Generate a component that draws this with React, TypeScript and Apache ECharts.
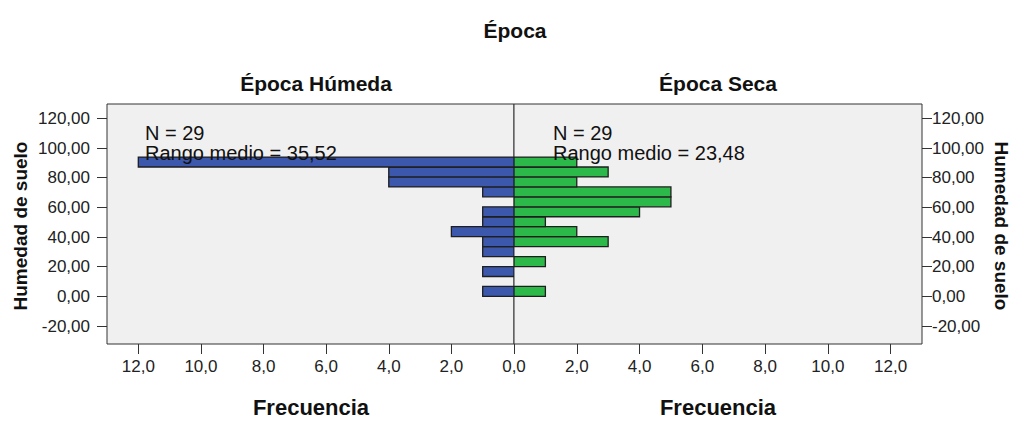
import React, { useEffect, useRef } from "react";
import * as echarts from "echarts";

// Histogram bins (soil moisture) — lower and upper bounds
const binStarts = [0, 6.71, 13.42, 20.13, 26.84, 33.55, 40.26, 46.97, 53.68, 60.39, 67.1, 73.81, 80.52, 87.23];
const binEnds = [6.71, 13.42, 20.13, 26.84, 33.55, 40.26, 46.97, 53.68, 60.39, 67.1, 73.81, 80.52, 87.23, 93.94];
// Frequencies per bin (bottom to top)
const humedaCounts = [1, 0, 1, 0, 1, 1, 2, 1, 1, 0, 1, 4, 4, 12];
const secaCounts = [1, 0, 0, 1, 0, 3, 2, 1, 4, 5, 5, 2, 3, 2];

const yTicks = [-20, 0, 20, 40, 60, 80, 100, 120];
const xTicks = [0, 2, 4, 6, 8, 10, 12];
const xTicksRight = [2, 4, 6, 8, 10, 12];

const FONT = "'Liberation Sans', Arial, sans-serif";
const BLUE = "#3c58ac";
const GREEN = "#2db84a";

function mkData(counts: number[]) {
  const out: number[][] = [];
  counts.forEach((c, i) => {
    if (c > 0) out.push([binStarts[i], binEnds[i], c]);
  });
  return out;
}

function renderer(color: string) {
  return (params: any, api: any) => {
    const lo = api.value(0);
    const hi = api.value(1);
    const c = api.value(2);
    const p1 = api.coord([0, hi]);
    const p2 = api.coord([c, lo]);
    return {
      type: "rect",
      shape: {
        x: Math.min(p1[0], p2[0]),
        y: p1[1],
        width: Math.abs(p2[0] - p1[0]),
        height: p2[1] - p1[1],
      },
      style: { fill: color, stroke: "#1e1e1e", lineWidth: 1.3 },
    };
  };
}

export default function App() {
  const ref = useRef<HTMLDivElement>(null);
  useEffect(() => {
    if (!ref.current) return;
    const chart = echarts.init(ref.current, null, { renderer: "svg" });
    const fmtX = (v: number) => v.toFixed(1).replace(".", ",");
    const fmtY = (v: number) => v.toFixed(2).replace(".", ",");
    const tickStyle = { color: "#333", width: 1 };
    const yBase = {
      type: "value" as const,
      min: -32.1,
      max: 129.7,
      splitLine: { show: false },
      axisLine: { show: false, onZero: false },
      axisTick: { show: true, length: 10, inside: false, lineStyle: tickStyle, customValues: yTicks },
      axisLabel: {
        formatter: fmtY,
        customValues: yTicks,
        fontFamily: FONT,
        fontSize: 17,
        color: "#222",
      },
    };
    const xBase = {
      type: "value" as const,
      min: 0,
      max: 13,
      splitLine: { show: false },
      axisLine: { show: false, onZero: false },
      axisTick: { show: true, length: 10, lineStyle: tickStyle, customValues: xTicks },
    };
    chart.setOption({
      animation: false,
      backgroundColor: "#ffffff",
      grid: [
        {
          left: 107, right: 499, top: 104, bottom: 77,
          show: true, backgroundColor: "#f0f0f0", borderColor: "#333", borderWidth: 1,
        },
        {
          left: 514, right: 91, top: 104, bottom: 77,
          show: true, backgroundColor: "#f0f0f0", borderColor: "#333", borderWidth: 1,
        },
      ],
      xAxis: [
        {
          ...xBase,
          gridIndex: 0,
          inverse: true,
          axisLabel: { formatter: fmtX, customValues: xTicks, fontFamily: FONT, fontSize: 17, color: "#222", margin: 14 },
        },
        {
          ...xBase,
          gridIndex: 1,
          axisLabel: { formatter: fmtX, customValues: xTicksRight, fontFamily: FONT, fontSize: 17, color: "#222", margin: 14 },
        },
      ],
      yAxis: [
        { ...yBase, gridIndex: 0, position: "left", axisLabel: { ...yBase.axisLabel, margin: 17 } },
        { ...yBase, gridIndex: 1, position: "right", axisLabel: { ...yBase.axisLabel, margin: 10 } },
      ],
      series: [
        {
          type: "custom",
          name: "Época Húmeda",
          xAxisIndex: 0,
          yAxisIndex: 0,
          renderItem: renderer(BLUE),
          encode: { x: 2, y: [0, 1] },
          data: mkData(humedaCounts),
          clip: true,
        },
        {
          type: "custom",
          name: "Época Seca",
          xAxisIndex: 1,
          yAxisIndex: 1,
          renderItem: renderer(GREEN),
          encode: { x: 2, y: [0, 1] },
          data: mkData(secaCounts),
          clip: true,
        },
      ],
      graphic: [
        {
          type: "text", x: 515, y: 30, z: 100,
          style: { text: "Época", fontFamily: FONT, fontWeight: "bold", fontSize: 21, fill: "#111", textAlign: "center", textVerticalAlign: "middle" },
        },
        {
          type: "text", x: 316, y: 83, z: 100,
          style: { text: "Época Húmeda", fontFamily: FONT, fontWeight: "bold", fontSize: 21, fill: "#111", textAlign: "center", textVerticalAlign: "middle" },
        },
        {
          type: "text", x: 718, y: 83, z: 100,
          style: { text: "Época Seca", fontFamily: FONT, fontWeight: "bold", fontSize: 21, fill: "#111", textAlign: "center", textVerticalAlign: "middle" },
        },
        {
          type: "text", x: 311, y: 407, z: 100,
          style: { text: "Frecuencia", fontFamily: FONT, fontWeight: "bold", fontSize: 22, fill: "#111", textAlign: "center", textVerticalAlign: "middle" },
        },
        {
          type: "text", x: 718, y: 407, z: 100,
          style: { text: "Frecuencia", fontFamily: FONT, fontWeight: "bold", fontSize: 22, fill: "#111", textAlign: "center", textVerticalAlign: "middle" },
        },
        {
          type: "text", x: 20, y: 226, z: 100, rotation: Math.PI / 2,
          style: { text: "Humedad de suelo", fontFamily: FONT, fontWeight: "bold", fontSize: 19, fill: "#111", textAlign: "center", textVerticalAlign: "middle" },
        },
        {
          type: "text", x: 1001, y: 226, z: 100, rotation: -Math.PI / 2,
          style: { text: "Humedad de suelo", fontFamily: FONT, fontWeight: "bold", fontSize: 19, fill: "#111", textAlign: "center", textVerticalAlign: "middle" },
        },
        {
          type: "text", x: 145, y: 123, z: 100,
          style: { text: "N = 29\nRango medio = 35,52", fontFamily: FONT, fontSize: 20, lineHeight: 20, fill: "#111" },
        },
        {
          type: "text", x: 553, y: 123, z: 100,
          style: { text: "N = 29\nRango medio = 23,48", fontFamily: FONT, fontSize: 20, lineHeight: 20, fill: "#111" },
        },
      ],
    });
    return () => chart.dispose();
  }, []);
  return (
    <div
      ref={ref}
      style={{ position: "fixed", left: 0, top: 0, width: 1013, height: 421 }}
    />
  );
}
